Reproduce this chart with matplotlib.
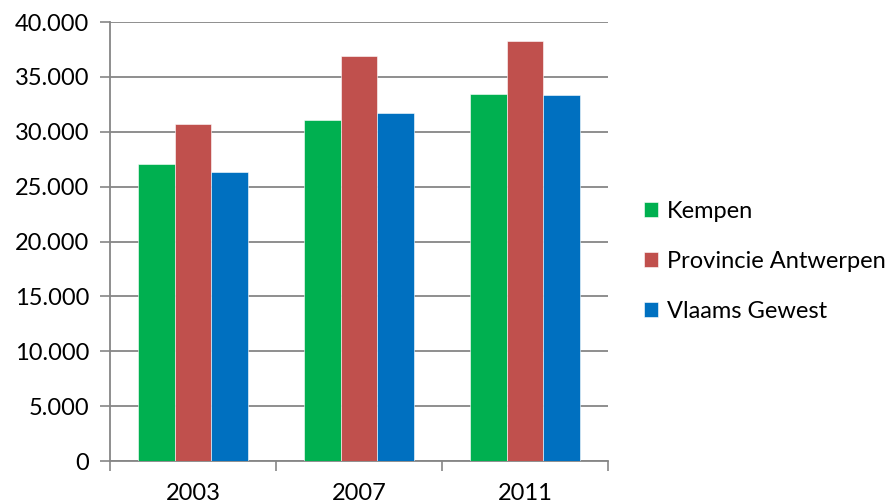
import numpy as np
import matplotlib.pyplot as plt
from matplotlib.ticker import FuncFormatter, FixedLocator

plt.rcParams['font.family'] = ['Lato', 'DejaVu Sans']

# Gegevens
jaren = ['2003', '2007', '2011']
kempen = [27050, 31050, 33450]
provincie = [30700, 36900, 38300]
vlaams = [26300, 31700, 33350]

reeksen = ['Kempen', 'Provincie Antwerpen', 'Vlaams Gewest']
kleuren = ['#00B050', '#C0504D', '#0070C0']

fig = plt.figure(figsize=(8.96, 5.04), dpi=100)
ax = fig.add_axes([0.1228, 0.0853, 0.5558, 0.871])

x = np.arange(len(jaren))
breedte = 1 / 4.5

for i, (waarden, naam, kleur) in enumerate(zip([kempen, provincie, vlaams], reeksen, kleuren)):
    ax.bar(x + (i - 1) * breedte, waarden, width=breedte, color=kleur, label=naam,
           edgecolor='white', linewidth=0.4, zorder=3)

ax.set_xlim(-0.5, 2.5)
ax.set_ylim(0, 40000)
ax.set_yticks(np.arange(0, 40001, 5000))
ax.yaxis.set_major_formatter(FuncFormatter(lambda v, p: f'{int(v):,}'.replace(',', '.')))

# x-as: labels in het midden, streepjes op de grenzen
ax.set_xticks(x)
ax.set_xticklabels(jaren)
ax.xaxis.set_minor_locator(FixedLocator([-0.5, 0.5, 1.5, 2.5]))
ax.tick_params(axis='x', which='major', length=0, pad=16, labelsize=17)
ax.tick_params(axis='x', which='minor', length=7, width=1.2, color='#868686', direction='out')
ax.tick_params(axis='y', length=7, width=1.2, color='#868686', labelsize=17, pad=8)

ax.grid(axis='y', color='#868686', linewidth=1.3, zorder=0)
for kant in ['top', 'right']:
    ax.spines[kant].set_visible(False)
for kant in ['left', 'bottom']:
    ax.spines[kant].set_color('#868686')
    ax.spines[kant].set_linewidth(1.3)

ax.legend(loc='center left', bbox_to_anchor=(1.03, 0.455), frameon=False, fontsize=17,
          handlelength=0.6, handleheight=0.6, handletextpad=0.35, labelspacing=1.22)

plt.savefig('out.png', dpi=100)
